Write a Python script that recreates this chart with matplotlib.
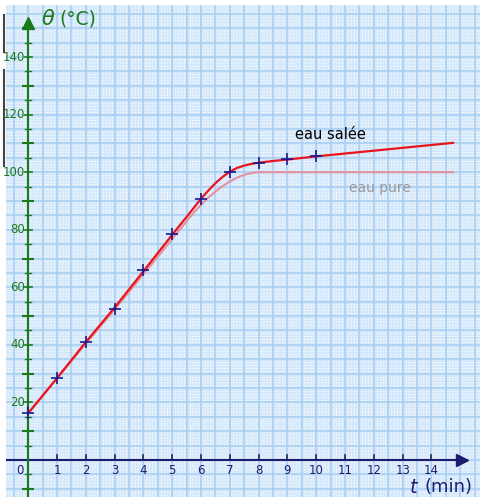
import numpy as np
from matplotlib import pyplot as plt
from matplotlib.lines import Line2D

# mesures (eau salée)
t_mes = [0, 1, 2, 3, 4, 5, 6, 7, 8, 9, 10]
theta_mes = [16.3, 28.5, 41, 52.5, 66, 78.5, 90.8, 100, 103.3, 104.5, 105.7]

# courbe eau salée
t_sal = [0, 1, 2, 3, 4, 5, 5.5, 6, 6.25, 6.5, 6.75, 7, 7.25, 7.5, 7.75, 8, 8.5, 9, 10, 14.75]
theta_sal = [16.3, 28.5, 41, 53, 65.6, 78.3, 84.5, 90.8, 93.6, 96.2, 98.4, 100.2, 101.5, 102.3,
             102.9, 103.3, 103.9, 104.4, 105.5, 110.2]

# courbe eau pure
t_pur = [0, 1, 2, 3, 4, 5, 5.5, 5.75, 6, 6.25, 6.5, 6.75, 7, 7.25, 7.5, 7.75, 8, 8.25, 14.75]
theta_pur = [16.3, 28.3, 40.5, 52.3, 64.6, 76.8, 83, 86, 88.7, 91.2, 93.3, 95.2, 96.8, 98.1,
             99.1, 99.7, 100, 100, 100]

x_ticks = list(range(0, 15))
y_labels = list(range(20, 141, 20))

vert = '#1a7a1a'
bleu = '#1c1c6e'

fig = plt.figure(figsize=(4.81, 4.97), dpi=100)
W, H = 481, 497
ax = fig.add_axes([6 / W, 0, 1 - 6 / W, 1 - 5 / H])
ax.set_xlim(-0.774, 15.72)
ax.set_ylim(-12.86, 158.1)
ax.set_facecolor('#d5e7fa')
for s in ax.spines.values():
    s.set_visible(False)
ax.set_xticks([])
ax.set_yticks([])

# papier millimétré
for x in np.arange(-0.7, 15.8, 0.1):
    ax.axvline(x, color='white', lw=0.7, ls=(0, (1, 2)), alpha=0.8, zorder=0)
for y in np.arange(-12, 158.5, 1):
    ax.axhline(y, color='white', lw=0.7, ls=(0, (1, 2)), alpha=0.8, zorder=0)
for x in np.arange(-0.5, 15.8, 0.5):
    ax.axvline(x, color='#a6cdf2', lw=1.1, zorder=0.5)
for y in np.arange(-10, 158, 5):
    ax.axhline(y, color='#a6cdf2', lw=1.1, zorder=0.5)

# axe des temps
ax.plot([-0.774, 15.0], [0, 0], color=bleu, lw=1.5, zorder=3)
ax.plot([15.05], [0], marker='>', color=bleu, ms=9, zorder=3)
for x in x_ticks:
    if x > 0:
        ax.plot([x, x], [0, 1.6], color=bleu, lw=1.2, zorder=3)
    ax.text(x - (0.28 if x == 0 else 0), -1.4, str(x), color=bleu, fontsize=8.5,
            ha='center', va='top', zorder=3)

# axe des températures
ax.plot([0, 0], [-12.86, 151], color=vert, lw=1.5, zorder=3)
ax.plot([0], [152], marker='^', color=vert, ms=9, zorder=3)
for y in range(-10, 151, 5):
    if y == 0:
        continue
    if y % 20 == 0:
        ax.plot([-0.1, 0.12], [y, y], color=vert, lw=1.2, zorder=3)
    elif y % 10 == 0:
        ax.plot([-0.17, 0.17], [y, y], color=vert, lw=1.5, zorder=3)
    else:
        ax.plot([-0.1, 0.1], [y, y], color=vert, lw=1.0, zorder=3)
for y in y_labels:
    ax.text(-0.1, y, str(y), color=vert, fontsize=8.5, ha='right', va='center', zorder=3)

# courbes
ax.plot(t_pur, theta_pur, color='#e292a0', lw=1.5, zorder=4)
ax.plot(t_sal, theta_sal, color='#e8141e', lw=1.6, zorder=5)
ax.plot(t_mes, theta_mes, '+', color='#1a1a8c', ms=9, mew=1.2, zorder=6)

ax.text(10.5, 113, 'eau salée', color='black', fontsize=10.5, ha='center', va='center', zorder=6)
ax.text(12.2, 94.4, 'eau pure', color='#999999', fontsize=10, ha='center', va='center', zorder=6)

ax.text(0.45, 153.4, r'$\theta$', color=vert, fontsize=15, ha='left', va='center', zorder=6)
ax.text(1.08, 153.4, '(°C)', color=vert, fontsize=13.5, ha='left', va='center', zorder=6)
ax.text(13.4, -9.4, r'$t$', color=bleu, fontsize=14, ha='center', va='center', zorder=6)
ax.text(13.75, -9.4, '(min)', color=bleu, fontsize=13, ha='left', va='center', zorder=6)

# marques au bord gauche
fig.add_artist(Line2D([3.5 / W, 3.5 / W], [1 - 15 / H, 1 - 52 / H], color='#444444', lw=1.5))
fig.add_artist(Line2D([3.5 / W, 3.5 / W], [1 - 70 / H, 1 - 166 / H], color='#444444', lw=1.5))

plt.savefig('out.png', dpi=100)
